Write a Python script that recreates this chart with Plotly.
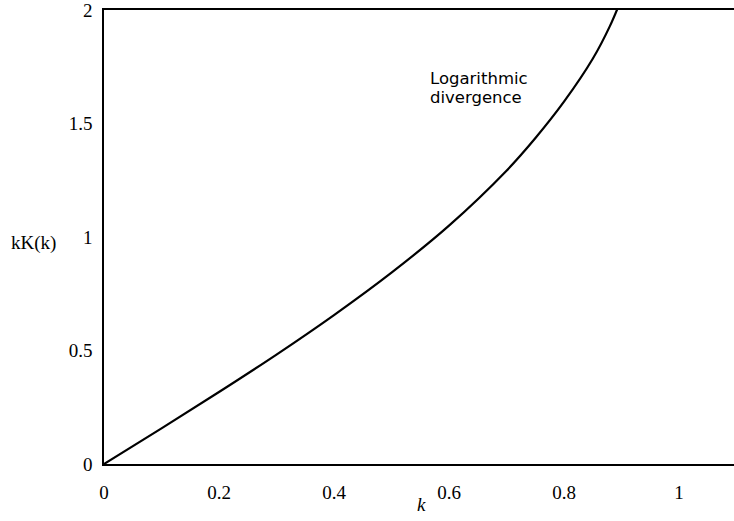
import plotly.graph_objects as go

# Data
k_vals = [0, 0.1, 0.2, 0.3, 0.4, 0.5, 0.6, 0.7, 0.75, 0.8, 0.85, 0.88, 0.9]
kK_vals = [0, 0.157, 0.317, 0.482, 0.656, 0.843, 1.050, 1.292, 1.435, 1.596, 1.785, 1.93, 2.05]

x_tickvals = [0, 0.2, 0.4, 0.6, 0.8, 1]
x_ticktext = ["0", "0.2", "0.4", "0.6", "0.8", "1"]
y_tickvals = [0, 0.5, 1, 1.5, 2]
y_ticktext = ["0", "0.5", "1", "1.5", "2"]

W, H = 734, 521
L, R, T, B = 104, 0, 5, 57
PW, PH = W - L - R, H - T - B


def px(xp):
    return (xp - L) / PW


def py(yp):
    return (H - B - yp) / PH


serif = "Liberation Serif, Times New Roman, serif"

fig = go.Figure()
fig.add_trace(go.Scatter(
    x=k_vals, y=kK_vals, mode="lines",
    line=dict(color="black", width=2.2, shape="spline"),
    showlegend=False, hoverinfo="skip", cliponaxis=True,
))

fig.update_layout(
    width=W, height=H,
    margin=dict(l=L, r=R, t=T, b=B, pad=0),
    paper_bgcolor="white", plot_bgcolor="white",
    xaxis=dict(
        range=[0, PW / 575.0], tickvals=x_tickvals, ticktext=x_ticktext,
        showgrid=False, zeroline=False, showline=True, linecolor="black",
        linewidth=1.6, mirror=True, ticks="", ticklabelstandoff=10,
        ticklabeloverflow="allow",
        tickfont=dict(family=serif, size=19, color="black"),
    ),
    yaxis=dict(
        range=[0, 2], tickvals=y_tickvals, ticktext=y_ticktext,
        showgrid=False, zeroline=False, showline=True, linecolor="black",
        linewidth=1.6, mirror=False, ticks="", ticklabelstandoff=6,
        ticklabeloverflow="allow",
        tickfont=dict(family=serif, size=19, color="black"),
    ),
    annotations=[
        dict(text="kK(k)", xref="paper", yref="paper", x=px(9), y=py(241),
             xanchor="left", yanchor="middle", showarrow=False,
             font=dict(family=serif, size=19, color="black")),
        dict(text="<i>k</i>", xref="paper", yref="paper", x=px(421), y=py(505),
             xanchor="center", yanchor="middle", showarrow=False,
             font=dict(family=serif, size=19, color="black")),
        dict(text="Logarithmic", xref="paper", yref="paper", x=px(429), y=py(74),
             xanchor="left", yanchor="middle", showarrow=False, borderpad=0,
             font=dict(family="DejaVu Sans", size=16.5, color="black")),
        dict(text="divergence", xref="paper", yref="paper", x=px(429), y=py(93),
             xanchor="left", yanchor="middle", showarrow=False, borderpad=0,
             font=dict(family="DejaVu Sans", size=16.5, color="black")),
    ],
)

fig.write_html(
    "out.html",
    config={"displayModeBar": False},
    post_script="document.body.style.margin='0';document.body.style.overflow='hidden';",
)
